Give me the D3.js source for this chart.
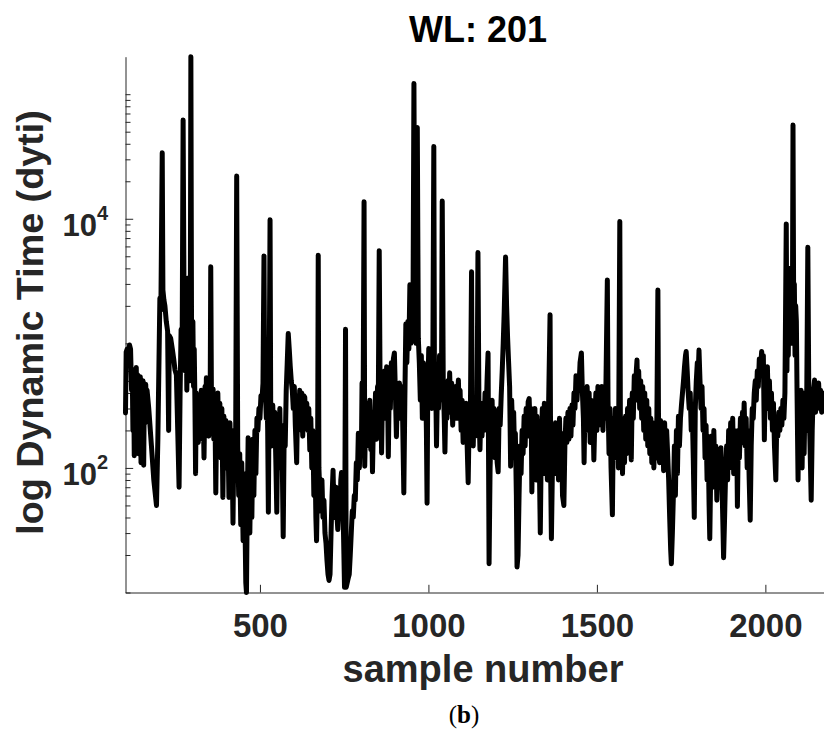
<!DOCTYPE html>
<html>
<head>
<meta charset="utf-8">
<script src="https://cdn.jsdelivr.net/npm/d3@7"></script>
<style>
  body { margin: 0; background: #fff; }
  text { font-family: "Liberation Sans", Arial, Helvetica, sans-serif; font-weight: bold; }
</style>
</head>
<body>
<div class="box"></div>
<script>
// sample numbers (x) and dynamic time values (y)
const sampleNumber = [
  101, 103, 106, 110, 113, 116, 119, 121, 123, 125,
  127, 129, 131, 133, 135, 137, 139, 141, 143, 145,
  147, 149, 151, 153, 155, 157, 159, 161, 163, 165,
  170, 178, 185, 193, 197, 200, 203, 206, 210, 212,
  215, 218, 222, 226, 229, 231, 235, 240, 244, 248,
  252, 256, 260, 263, 266, 269, 272, 275, 278, 281,
  283, 285, 287, 289, 291, 293, 295, 297, 299, 301,
  303, 305, 307, 309, 311, 314, 317, 320, 323, 326,
  329, 331, 334, 337, 339, 341, 343, 345, 348, 350,
  352, 354, 356, 358, 361, 363, 366, 369, 372, 375,
  378, 381, 384, 387, 390, 393, 396, 399, 402, 405,
  408, 411, 414, 417, 420, 423, 428, 431, 434, 437,
  440, 443, 446, 450, 453, 456, 458, 460, 462, 465,
  467, 470, 473, 476, 479, 482, 485, 488, 491, 494,
  497, 500, 503, 506, 509, 512, 514, 517, 519, 521,
  523, 525, 527, 530, 532, 535, 538, 541, 544, 547,
  550, 553, 556, 559, 562, 565, 569, 572, 575, 578,
  581, 584, 587, 590, 593, 596, 599, 602, 605, 609,
  612, 615, 618, 621, 624, 627, 630, 633, 636, 639,
  642, 645, 648, 651, 654, 657, 660, 663, 666, 668,
  671, 673, 675, 678, 681, 684, 687, 690, 693, 696,
  699, 702, 705, 708, 711, 714, 717, 720, 723, 726,
  729, 731, 734, 737, 740, 742, 745, 748, 751, 754,
  756, 759, 762, 765, 768, 771, 774, 777, 780, 783,
  786, 789, 792, 795, 798, 801, 803, 806, 809, 811,
  814, 817, 820, 823, 826, 829, 831, 834, 837, 840,
  843, 846, 849, 851, 854, 857, 859, 861, 864, 867,
  870, 873, 876, 879, 881, 884, 887, 890, 893, 896,
  899, 902, 905, 908, 911, 914, 917, 920, 923, 927,
  930, 933, 936, 939, 942, 945, 948, 951, 954, 957,
  960, 963, 967, 970, 973, 976, 979, 982, 985, 988,
  991, 994, 996, 998, 1001, 1004, 1007, 1010, 1013, 1016,
  1018, 1021, 1024, 1027, 1030, 1033, 1036, 1039, 1041, 1044,
  1047, 1049, 1052, 1055, 1058, 1061, 1063, 1066, 1069, 1072,
  1075, 1078, 1081, 1084, 1086, 1089, 1091, 1094, 1097, 1100,
  1103, 1106, 1109, 1112, 1115, 1118, 1121, 1124, 1128, 1130,
  1133, 1136, 1139, 1142, 1144, 1147, 1150, 1153, 1156, 1159,
  1162, 1165, 1168, 1171, 1174, 1177, 1180, 1183, 1186, 1189,
  1192, 1195, 1198, 1201, 1204, 1207, 1210, 1213, 1216, 1219,
  1222, 1225, 1229, 1232, 1235, 1238, 1241, 1244, 1247, 1250,
  1253, 1256, 1258, 1261, 1263, 1266, 1269, 1272, 1275, 1278,
  1281, 1284, 1287, 1290, 1293, 1296, 1299, 1302, 1305, 1307,
  1310, 1313, 1316, 1319, 1322, 1325, 1328, 1332, 1335, 1338,
  1341, 1344, 1347, 1350, 1353, 1356, 1361, 1363, 1365, 1368,
  1371, 1374, 1377, 1380, 1383, 1386, 1389, 1392, 1395, 1398,
  1402, 1405, 1408, 1411, 1414, 1417, 1420, 1423, 1426, 1429,
  1432, 1435, 1438, 1441, 1444, 1447, 1450, 1454, 1457, 1460,
  1462, 1465, 1468, 1471, 1474, 1477, 1480, 1483, 1486, 1488,
  1491, 1494, 1497, 1500, 1503, 1506, 1509, 1512, 1515, 1518,
  1521, 1524, 1527, 1531, 1533, 1536, 1539, 1542, 1546, 1549,
  1552, 1555, 1558, 1561, 1564, 1568, 1570, 1573, 1576, 1579,
  1582, 1585, 1588, 1591, 1594, 1597, 1600, 1602, 1605, 1608,
  1611, 1614, 1617, 1619, 1621, 1624, 1627, 1630, 1633, 1636,
  1639, 1642, 1645, 1648, 1651, 1654, 1657, 1660, 1663, 1666,
  1669, 1672, 1675, 1678, 1681, 1683, 1686, 1689, 1692, 1695,
  1698, 1701, 1704, 1707, 1710, 1713, 1716, 1719, 1721, 1724,
  1727, 1730, 1733, 1736, 1739, 1742, 1745, 1748, 1751, 1754,
  1757, 1760, 1763, 1765, 1768, 1771, 1774, 1777, 1780, 1783,
  1786, 1789, 1792, 1795, 1798, 1801, 1803, 1806, 1809, 1812,
  1815, 1818, 1821, 1824, 1827, 1830, 1833, 1835, 1838, 1841,
  1844, 1847, 1850, 1853, 1856, 1859, 1862, 1865, 1868, 1871,
  1874, 1876, 1879, 1882, 1885, 1888, 1891, 1894, 1897, 1900,
  1903, 1906, 1909, 1912, 1915, 1917, 1920, 1923, 1926, 1929,
  1932, 1935, 1937, 1940, 1943, 1946, 1949, 1952, 1955, 1958,
  1961, 1964, 1967, 1970, 1973, 1976, 1979, 1982, 1985, 1989,
  1992, 1994, 1997, 2000, 2003, 2006, 2009, 2012, 2015, 2018,
  2021, 2024, 2027, 2031, 2034, 2037, 2040, 2043, 2046, 2049,
  2052, 2055, 2058, 2062, 2064, 2066, 2068, 2070, 2072, 2074,
  2076, 2078, 2080, 2082, 2084, 2086, 2088, 2090, 2092, 2094,
  2097, 2100, 2103, 2106, 2109, 2112, 2115, 2118, 2121, 2123,
  2126, 2129, 2132, 2136, 2139, 2142, 2146, 2149, 2152, 2155,
  2158, 2161, 2164, 2167, 2170, 2173
];

const dynamicTime = [
  276, 850, 900, 870, 970, 900, 420, 620, 200, 560,
  125, 600, 300, 640, 180, 560, 130, 520, 250, 540,
  110, 480, 200, 500, 105, 450, 230, 470, 300, 420,
  300, 150, 80, 50, 168, 611, 2300, 1850, 33900, 2680,
  2230, 2000, 1500, 1250, 200, 1150, 1100, 900, 750, 610,
  560, 200, 70, 400, 1290, 800, 62000, 1500, 600, 2000,
  420, 1400, 3350, 900, 1700, 500, 200000, 1200, 600, 1500,
  450, 900, 350, 90, 400, 300, 160, 380, 200, 420,
  170, 380, 120, 450, 250, 530, 220, 460, 180, 420,
  250, 4120, 380, 200, 430, 170, 380, 63, 350, 400,
  150, 330, 120, 300, 58, 260, 130, 240, 100, 200,
  58, 230, 90, 180, 36, 200, 180, 22000, 150, 60,
  130, 35, 110, 26, 90, 30, 12, 10, 40, 175,
  50, 30, 120, 40, 170, 60, 200, 90, 250, 200,
  300, 250, 380, 350, 480, 5030, 450, 350, 250, 380,
  200, 44, 300, 9800, 280, 150, 320, 180, 280, 120,
  44, 250, 130, 300, 100, 220, 28, 200, 150, 420,
  700, 1200, 900, 650, 500, 420, 300, 450, 220, 110,
  380, 200, 420, 230, 400, 180, 380, 370, 230, 330,
  200, 300, 139, 250, 100, 200, 60, 150, 40, 26,
  80, 5100, 100, 60, 45, 80, 40, 55, 30, 25,
  18, 14, 12.5, 14, 30, 60, 96, 40, 55, 70,
  40, 32, 60, 40, 80, 92, 50, 30, 11, 1300,
  11, 12, 13, 14, 20, 30, 45, 40, 60, 55,
  110, 80, 190, 100, 170, 130, 480, 250, 13700, 103,
  300, 150, 330, 170, 350, 140, 280, 93, 250, 200,
  400, 170, 450, 250, 5550, 300, 500, 132, 450, 300,
  600, 250, 650, 350, 123, 500, 300, 700, 420, 750,
  838, 400, 178, 400, 250, 480, 280, 450, 300, 63,
  350, 1430, 700, 1500, 900, 2950, 1000, 1800, 1200, 122000,
  1500, 1000, 54000, 1100, 700, 350, 800, 250, 700, 400,
  600, 200, 52, 400, 910, 500, 700, 300, 600, 38000,
  400, 650, 150, 500, 300, 800, 350, 600, 13900, 500,
  250, 134, 400, 250, 500, 280, 580, 300, 480, 220,
  420, 300, 450, 250, 350, 508, 280, 420, 200, 350,
  160, 300, 200, 330, 150, 76, 250, 180, 3760, 250,
  150, 320, 180, 350, 200, 5350, 300, 140, 330, 180,
  300, 200, 400, 250, 500, 838, 17, 100, 200, 350,
  150, 300, 120, 250, 110, 93, 300, 220, 380, 600,
  1000, 1800, 4940, 2000, 1100, 700, 450, 103, 350, 200,
  280, 120, 190, 60, 16, 20, 60, 150, 90, 200,
  130, 260, 150, 300, 180, 340, 360, 200, 300, 64,
  280, 100, 300, 80, 260, 120, 200, 30, 150, 300,
  90, 330, 110, 280, 80, 250, 1700, 80, 27, 100,
  200, 90, 230, 130, 200, 80, 250, 100, 190, 60,
  50, 150, 250, 160, 280, 170, 300, 180, 320, 220,
  400, 300, 550, 350, 530, 450, 700, 838, 400, 250,
  110, 380, 200, 450, 250, 400, 160, 350, 200, 300,
  116, 250, 400, 200, 450, 220, 400, 250, 450, 200,
  380, 250, 500, 3230, 350, 130, 300, 100, 42, 250,
  120, 300, 150, 250, 100, 9500, 120, 250, 90, 230,
  110, 260, 130, 300, 180, 350, 200, 116, 400, 250,
  550, 350, 600, 736, 400, 600, 300, 500, 250, 450,
  200, 400, 170, 350, 150, 300, 130, 250, 110, 230,
  100, 200, 120, 250, 2680, 200, 110, 240, 120, 220,
  95, 230, 110, 200, 130, 80, 40, 22, 17, 30,
  60, 150, 60, 200, 90, 260, 150, 250, 320, 400,
  500, 650, 800, 860, 600, 400, 300, 400, 200, 300,
  120, 40, 300, 500, 700, 600, 885, 500, 300, 450,
  200, 300, 120, 220, 80, 180, 50, 27, 100, 180,
  70, 200, 90, 150, 55, 120, 90, 140, 145, 80,
  35, 19, 40, 90, 150, 80, 200, 100, 230, 120,
  250, 90, 200, 130, 180, 49, 200, 120, 250, 160,
  280, 200, 332, 150, 250, 100, 200, 80, 38, 150,
  300, 250, 400, 500, 350, 600, 450, 750, 600, 860,
  700, 800, 168, 600, 400, 650, 300, 500, 250, 400,
  200, 330, 150, 80, 250, 180, 280, 200, 300, 220,
  350, 250, 400, 9100, 600, 2500, 800, 3000, 1200, 4000,
  1500, 2500, 1000, 56500, 1800, 3000, 800, 2000, 1500, 400,
  80, 400, 150, 420, 100, 380, 130, 400, 200, 450,
  5900, 350, 180, 55, 200, 400, 508, 280, 450, 300,
  480, 320, 420, 280, 400, 330
];

const xTicks = [500, 1000, 1500, 2000];
const yTicks = [1e2, 1e4];

const titleText = 'WL: 201';
const xLabelText = 'sample number';
const yLabelText = 'log Dynamic Time (dyti)';
const captionText = ['(', 'b', ')'];

const svg = d3.select('.box')
              .append('svg')
              .attr('width', 824)
              .attr('height', 729)
              .style('background', '#fff');

// Dimensions
const plot = {left: 125.5, right: 824, top: 56.7, bottom: 592.5};
const axisColor = '#262626';

const x = d3.scaleLinear()
            .domain([101, 2174])
            .range([plot.left, plot.right]);

const y = d3.scaleLog()
            .domain([10, 2e5])
            .range([plot.bottom, plot.top]);

// Axes
const groupeX = svg.append('g')
                   .attr('transform', `translate(0, ${plot.bottom})`)
                   .style('color', axisColor);

const axeX = d3.axisBottom(x)
               .tickValues(xTicks)
               .tickFormat(d3.format('d'))
               .tickSizeInner(-7.7)
               .tickSizeOuter(0)
               .tickPadding(21);
groupeX.call(axeX)
       .attr('font-size', 33)
       .attr('font-family', null);
groupeX.selectAll('text').attr('fill', axisColor);

const minorTicks = y.ticks().filter(v => v <= 1e5 && yTicks.indexOf(v) < 0);

const groupeYMinor = svg.append('g')
                        .attr('transform', `translate(${plot.left}, 0)`)
                        .style('color', axisColor);
groupeYMinor.call(d3.axisLeft(y).tickValues(minorTicks).tickSize(-5).tickFormat(''));
groupeYMinor.select('.domain').remove();

const groupeY = svg.append('g')
                   .attr('transform', `translate(${plot.left}, 0)`)
                   .style('color', axisColor);
groupeY.call(d3.axisLeft(y).tickValues(yTicks).tickSizeInner(-7.7).tickSizeOuter(0).tickFormat(''));

// y tick labels 10^k
yTicks.forEach(v => {
  const t = svg.append('text')
               .attr('x', 108)
               .attr('y', y(v) + 17.4)
               .attr('text-anchor', 'end')
               .attr('fill', axisColor)
               .attr('font-size', 31);
  t.append('tspan').text('10');
  t.append('tspan')
   .attr('font-size', 20)
   .attr('dy', -16)
   .text(Math.round(Math.log10(v)));
});

// the line
const data = d3.zip(sampleNumber, dynamicTime);
const valueLine = d3.line()
                    .x(d => x(d[0]))
                    .y(d => y(d[1]));

svg.append('path')
   .datum(data)
   .attr('d', valueLine)
   .attr('fill', 'none')
   .attr('stroke', '#000')
   .attr('stroke-width', 5)
   .attr('stroke-linejoin', 'round')
   .attr('stroke-linecap', 'round');

// Title and labels
svg.append('text')
   .attr('x', 478)
   .attr('y', 42)
   .attr('text-anchor', 'middle')
   .attr('font-size', 36)
   .attr('fill', '#000')
   .text(titleText);

svg.append('text')
   .attr('x', 483)
   .attr('y', 682)
   .attr('text-anchor', 'middle')
   .attr('font-size', 38)
   .attr('fill', axisColor)
   .text(xLabelText);

svg.append('text')
   .attr('transform', 'translate(43, 322.5) rotate(-90)')
   .attr('text-anchor', 'middle')
   .attr('font-size', 37.7)
   .attr('fill', axisColor)
   .text(yLabelText);

const caption = svg.append('text')
   .attr('x', 464)
   .attr('y', 723)
   .attr('text-anchor', 'middle')
   .attr('font-size', 25)
   .attr('fill', '#000')
   .style('font-family', '"Liberation Serif", "DejaVu Serif", serif')
   .style('font-weight', 'normal');
caption.append('tspan').text(captionText[0]);
caption.append('tspan').style('font-weight', 'bold').text(captionText[1]);
caption.append('tspan').text(captionText[2]);
</script>
</body>
</html>
